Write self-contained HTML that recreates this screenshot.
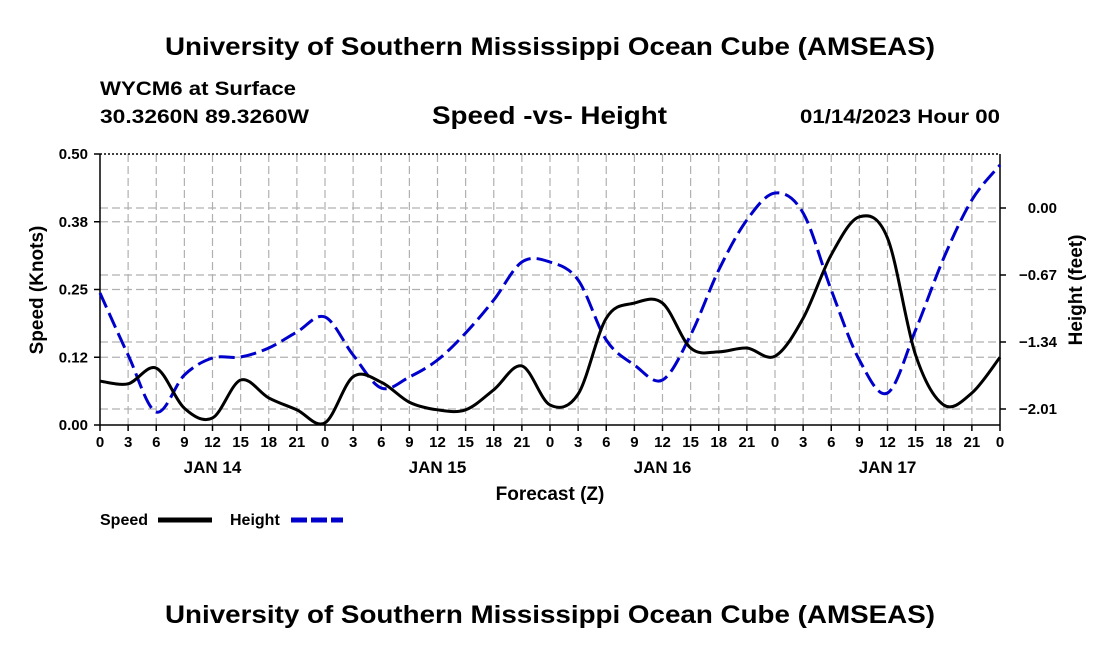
<!DOCTYPE html>
<html><head><meta charset="utf-8"><style>
body{margin:0;background:#fff;}
svg{display:block;font-family:"Liberation Sans",sans-serif;}
</style></head><body>
<svg id="chart" width="1100" height="650">
<text x="165" y="55" textLength="770" lengthAdjust="spacingAndGlyphs" font-size="25" font-weight="bold">University of Southern Mississippi Ocean Cube (AMSEAS)</text>
<text x="100" y="95" textLength="196" lengthAdjust="spacingAndGlyphs" font-size="19" font-weight="bold">WYCM6 at Surface</text>
<text x="100" y="123" textLength="209" lengthAdjust="spacingAndGlyphs" font-size="19" font-weight="bold">30.3260N  89.3260W</text>
<text x="432" y="124" textLength="235" lengthAdjust="spacingAndGlyphs" font-size="25" font-weight="bold">Speed -vs- Height</text>
<text x="800" y="123" textLength="200" lengthAdjust="spacingAndGlyphs" font-size="19" font-weight="bold">01/14/2023 Hour 00</text>
<g id="grid"></g>
<g id="axes"></g>
<g id="series"></g>
<text x="550" y="500" text-anchor="middle" font-size="19" font-weight="bold">Forecast (Z)</text>
<text transform="translate(43,290) rotate(-90)" text-anchor="middle" font-size="19" font-weight="bold">Speed (Knots)</text>
<text transform="translate(1082,290) rotate(-90)" text-anchor="middle" font-size="19" font-weight="bold">Height (feet)</text>
<g>
<text x="100" y="525" font-size="16" font-weight="bold">Speed</text>
<line x1="158" y1="520" x2="212" y2="520" stroke="#000" stroke-width="5"/>
<text x="230" y="525" font-size="16" font-weight="bold">Height</text>
<line x1="291" y1="520" x2="343" y2="520" stroke="#0000cc" stroke-width="5" stroke-dasharray="16,4"/>
</g>
<text x="165" y="623" textLength="770" lengthAdjust="spacingAndGlyphs" font-size="25" font-weight="bold">University of Southern Mississippi Ocean Cube (AMSEAS)</text>
</svg>
<script>
const hours=[0,3,6,9,12,15,18,21,24,27,30,33,36,39,42,45,48,51,54,57,60,63,66,69,72,75,78,81,84,87,90,93,96];
const speed=[.081,.076,.105,.031,.013,.083,.05,.028,.004,.089,.079,.042,.028,.028,.065,.109,.037,.057,.197,.225,.225,.142,.135,.142,.127,.197,.314,.384,.345,.129,.037,.059,.125];
const height=[-0.85,-1.47,-2.04,-1.67,-1.50,-1.49,-1.40,-1.24,-1.09,-1.47,-1.80,-1.69,-1.52,-1.25,-0.92,-0.54,-0.54,-0.72,-1.32,-1.57,-1.72,-1.27,-0.62,-0.12,0.15,-0.05,-0.82,-1.52,-1.85,-1.22,-0.50,0.08,0.43];
const speedTicks=[0,0.125,0.25,0.375,0.5];
const speedTickLabels=["0.00","0.12","0.25","0.38","0.50"];
const heightTicks=[0,-0.67,-1.34,-2.01];
const heightTickLabels=["0.00","\u22120.67","\u22121.34","\u22122.01"];
const xTickLabels=["0","3","6","9","12","15","18","21"];
const dayLabels=["JAN 14","JAN 15","JAN 16","JAN 17"];

const L=100,R=1000,T=154,B=425;
const x=h=>L+h/96*(R-L);
const ys=v=>B-v/0.5*(B-T);
const yh=v=>208-v*100;
const NS="http://www.w3.org/2000/svg";
function mk(tag,attrs,parent,txt){const e=document.createElementNS(NS,tag);for(const k in attrs)e.setAttribute(k,attrs[k]);if(txt!=null)e.textContent=txt;parent.appendChild(e);return e;}
const grid=document.getElementById('grid'),axes=document.getElementById('axes'),series=document.getElementById('series');

for(let h=0;h<=96;h+=3){
  if(h>0&&h<96){const g=mk('line',{x1:x(h),x2:x(h),y1:T,y2:B,stroke:'#b0b0b0','stroke-width':1.2,'stroke-dasharray':'8,4'},grid);
  }
  const t=mk('line',{x1:x(h),x2:x(h),y1:B,y2:B+6,stroke:'#000','stroke-width':1.5},axes);
  
  const lb=mk('text',{x:x(h),y:B+22,'text-anchor':'middle','font-size':15,'font-weight':'bold'},axes,xTickLabels[(h/3)%8]);
  
}
dayLabels.forEach((d,i)=>{const e=mk('text',{x:x(12+24*i),y:B+48,'text-anchor':'middle','font-size':17,'font-weight':'bold'},axes,d);
 });
speedTicks.forEach((v,i)=>{
  if(v>0&&v<0.5){const g=mk('line',{x1:L,x2:R,y1:ys(v),y2:ys(v),stroke:'#b0b0b0','stroke-width':1.2,'stroke-dasharray':'8,4'},grid);
  }
  const t=mk('line',{x1:L-6,x2:L,y1:ys(v),y2:ys(v),stroke:'#000','stroke-width':1.5},axes);
  
  const lb=mk('text',{x:L-12,y:ys(v)+5,'text-anchor':'end','font-size':15,'font-weight':'bold'},axes,speedTickLabels[i]);
  
});
heightTicks.forEach((v,i)=>{
  const g=mk('line',{x1:L,x2:R,y1:yh(v),y2:yh(v),stroke:'#b0b0b0','stroke-width':1.2,'stroke-dasharray':'8,4'},grid);
  
  const t=mk('line',{x1:R,x2:R+6,y1:yh(v),y2:yh(v),stroke:'#000','stroke-width':1.5},axes);
  
  const lb=mk('text',{x:R+57,y:yh(v)+5,'text-anchor':'end','font-size':15,'font-weight':'bold'},axes,heightTickLabels[i]);
  
});
let e;
e=mk('line',{x1:L,x2:L,y1:T,y2:B,stroke:'#000','stroke-width':1.5},axes);
e=mk('line',{x1:R,x2:R,y1:T,y2:B,stroke:'#000','stroke-width':1.5},axes);
e=mk('line',{x1:L,x2:R,y1:B,y2:B,stroke:'#000','stroke-width':1.5},axes);
e=mk('line',{x1:L,x2:R,y1:T,y2:T,stroke:'#000','stroke-width':1.5,'stroke-dasharray':'2,2'},axes);

function path(vals,yf){
  const p=hours.map((h,i)=>[x(h),yf(vals[i])]);
  let d=`M${p[0][0]},${p[0][1]}`;
  for(let i=0;i<p.length-1;i++){
    const p0=p[i-1]||p[i],p1=p[i],p2=p[i+1],p3=p[i+2]||p2;
    d+=` C${p1[0]+(p2[0]-p0[0])/6},${p1[1]+(p2[1]-p0[1])/6} ${p2[0]-(p3[0]-p1[0])/6},${p2[1]-(p3[1]-p1[1])/6} ${p2[0]},${p2[1]}`;
  }
  return d;
}
e=mk('path',{d:path(height,yh),fill:'none',stroke:'#0000cc','stroke-width':3,'stroke-dasharray':'16,6'},series);

e=mk('path',{d:path(speed,ys),fill:'none',stroke:'#000','stroke-width':3},series);

</script>
</body></html>
